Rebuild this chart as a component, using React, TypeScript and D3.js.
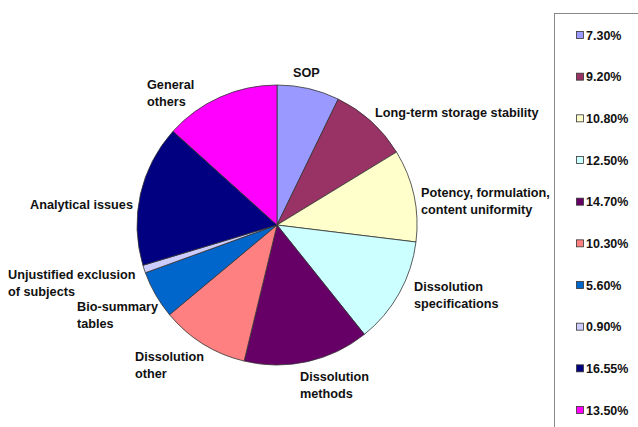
import React from "react";
import * as d3 from "d3";

// Share of findings per category (percent)
const categories = [
  "SOP",
  "Long-term storage stability",
  "Potency, formulation, content uniformity",
  "Dissolution specifications",
  "Dissolution methods",
  "Dissolution other",
  "Bio-summary tables",
  "Unjustified exclusion of subjects",
  "Analytical issues",
  "General others",
];
const values = [7.3, 9.2, 10.8, 12.5, 14.7, 10.3, 5.6, 0.9, 16.55, 13.5];
const legendLabels = ["7.30%", "9.20%", "10.80%", "12.50%", "14.70%", "10.30%", "5.60%", "0.90%", "16.55%", "13.50%"];
const colors = ["#9999FF", "#993366", "#FFFFCC", "#CCFFFF", "#660066", "#FF8080", "#0066CC", "#CCCCFF", "#000080", "#FF00FF"];

// Category label lines and their anchor points
const labelLines: string[][] = [
  ["SOP"],
  ["Long-term storage stability"],
  ["Potency, formulation,", "content uniformity"],
  ["Dissolution", "specifications"],
  ["Dissolution", "methods"],
  ["Dissolution", "other"],
  ["Bio-summary", "tables"],
  ["Unjustified exclusion", "of subjects"],
  ["Analytical issues"],
  ["General", "others"],
];
const labelPos: [number, number][] = [
  [293, 77],
  [375, 117],
  [421, 197],
  [414, 291],
  [300, 381],
  [135, 361],
  [77, 311],
  [8, 279],
  [30, 209],
  [147, 89],
];

const W = 638;
const H = 427;
const cx = 277;
const cy = 225;
const R = 140;

export default function App() {
  const pie = d3.pie<number>().sort(null).value((d) => d);
  const arcs = pie(values);
  const arc = d3.arc<d3.PieArcDatum<number>>().innerRadius(0).outerRadius(R);

  const legendY = d3.scaleLinear().domain([0, values.length - 1]).range([35, 410]);

  return (
    <svg
      width={W}
      height={H}
      style={{ position: "absolute", left: 0, top: 0, display: "block", background: "#fff" }}
      fontFamily="'Liberation Sans', Arial, sans-serif"
      fontWeight="bold"
    >
      <g transform={`translate(${cx},${cy})`}>
        {arcs.map((a, i) => (
          <path key={i} d={arc(a) || ""} fill={colors[i]} stroke="#333" strokeWidth={0.8} />
        ))}
      </g>
      {labelLines.map((lines, i) => (
        <text key={i} x={labelPos[i][0]} y={labelPos[i][1]} fontSize={12.7} fill="#111">
          {lines.map((l, j) => (
            <tspan key={j} x={labelPos[i][0]} dy={j === 0 ? 0 : 16.5}>
              {l}
            </tspan>
          ))}
        </text>
      ))}
      <rect x={554.5} y={13.5} width={100} height={430} fill="none" stroke="#888" strokeWidth={1} />
      {legendLabels.map((t, i) => (
        <g key={i} transform={`translate(576,${legendY(i)})`}>
          <rect x={0.5} y={-3.5} width={7} height={7} fill={colors[i]} stroke="#333" strokeWidth={0.8} />
          <text x={10} y={4.5} fontSize={12.5} fill="#111">
            {t}
          </text>
        </g>
      ))}
    </svg>
  );
}
